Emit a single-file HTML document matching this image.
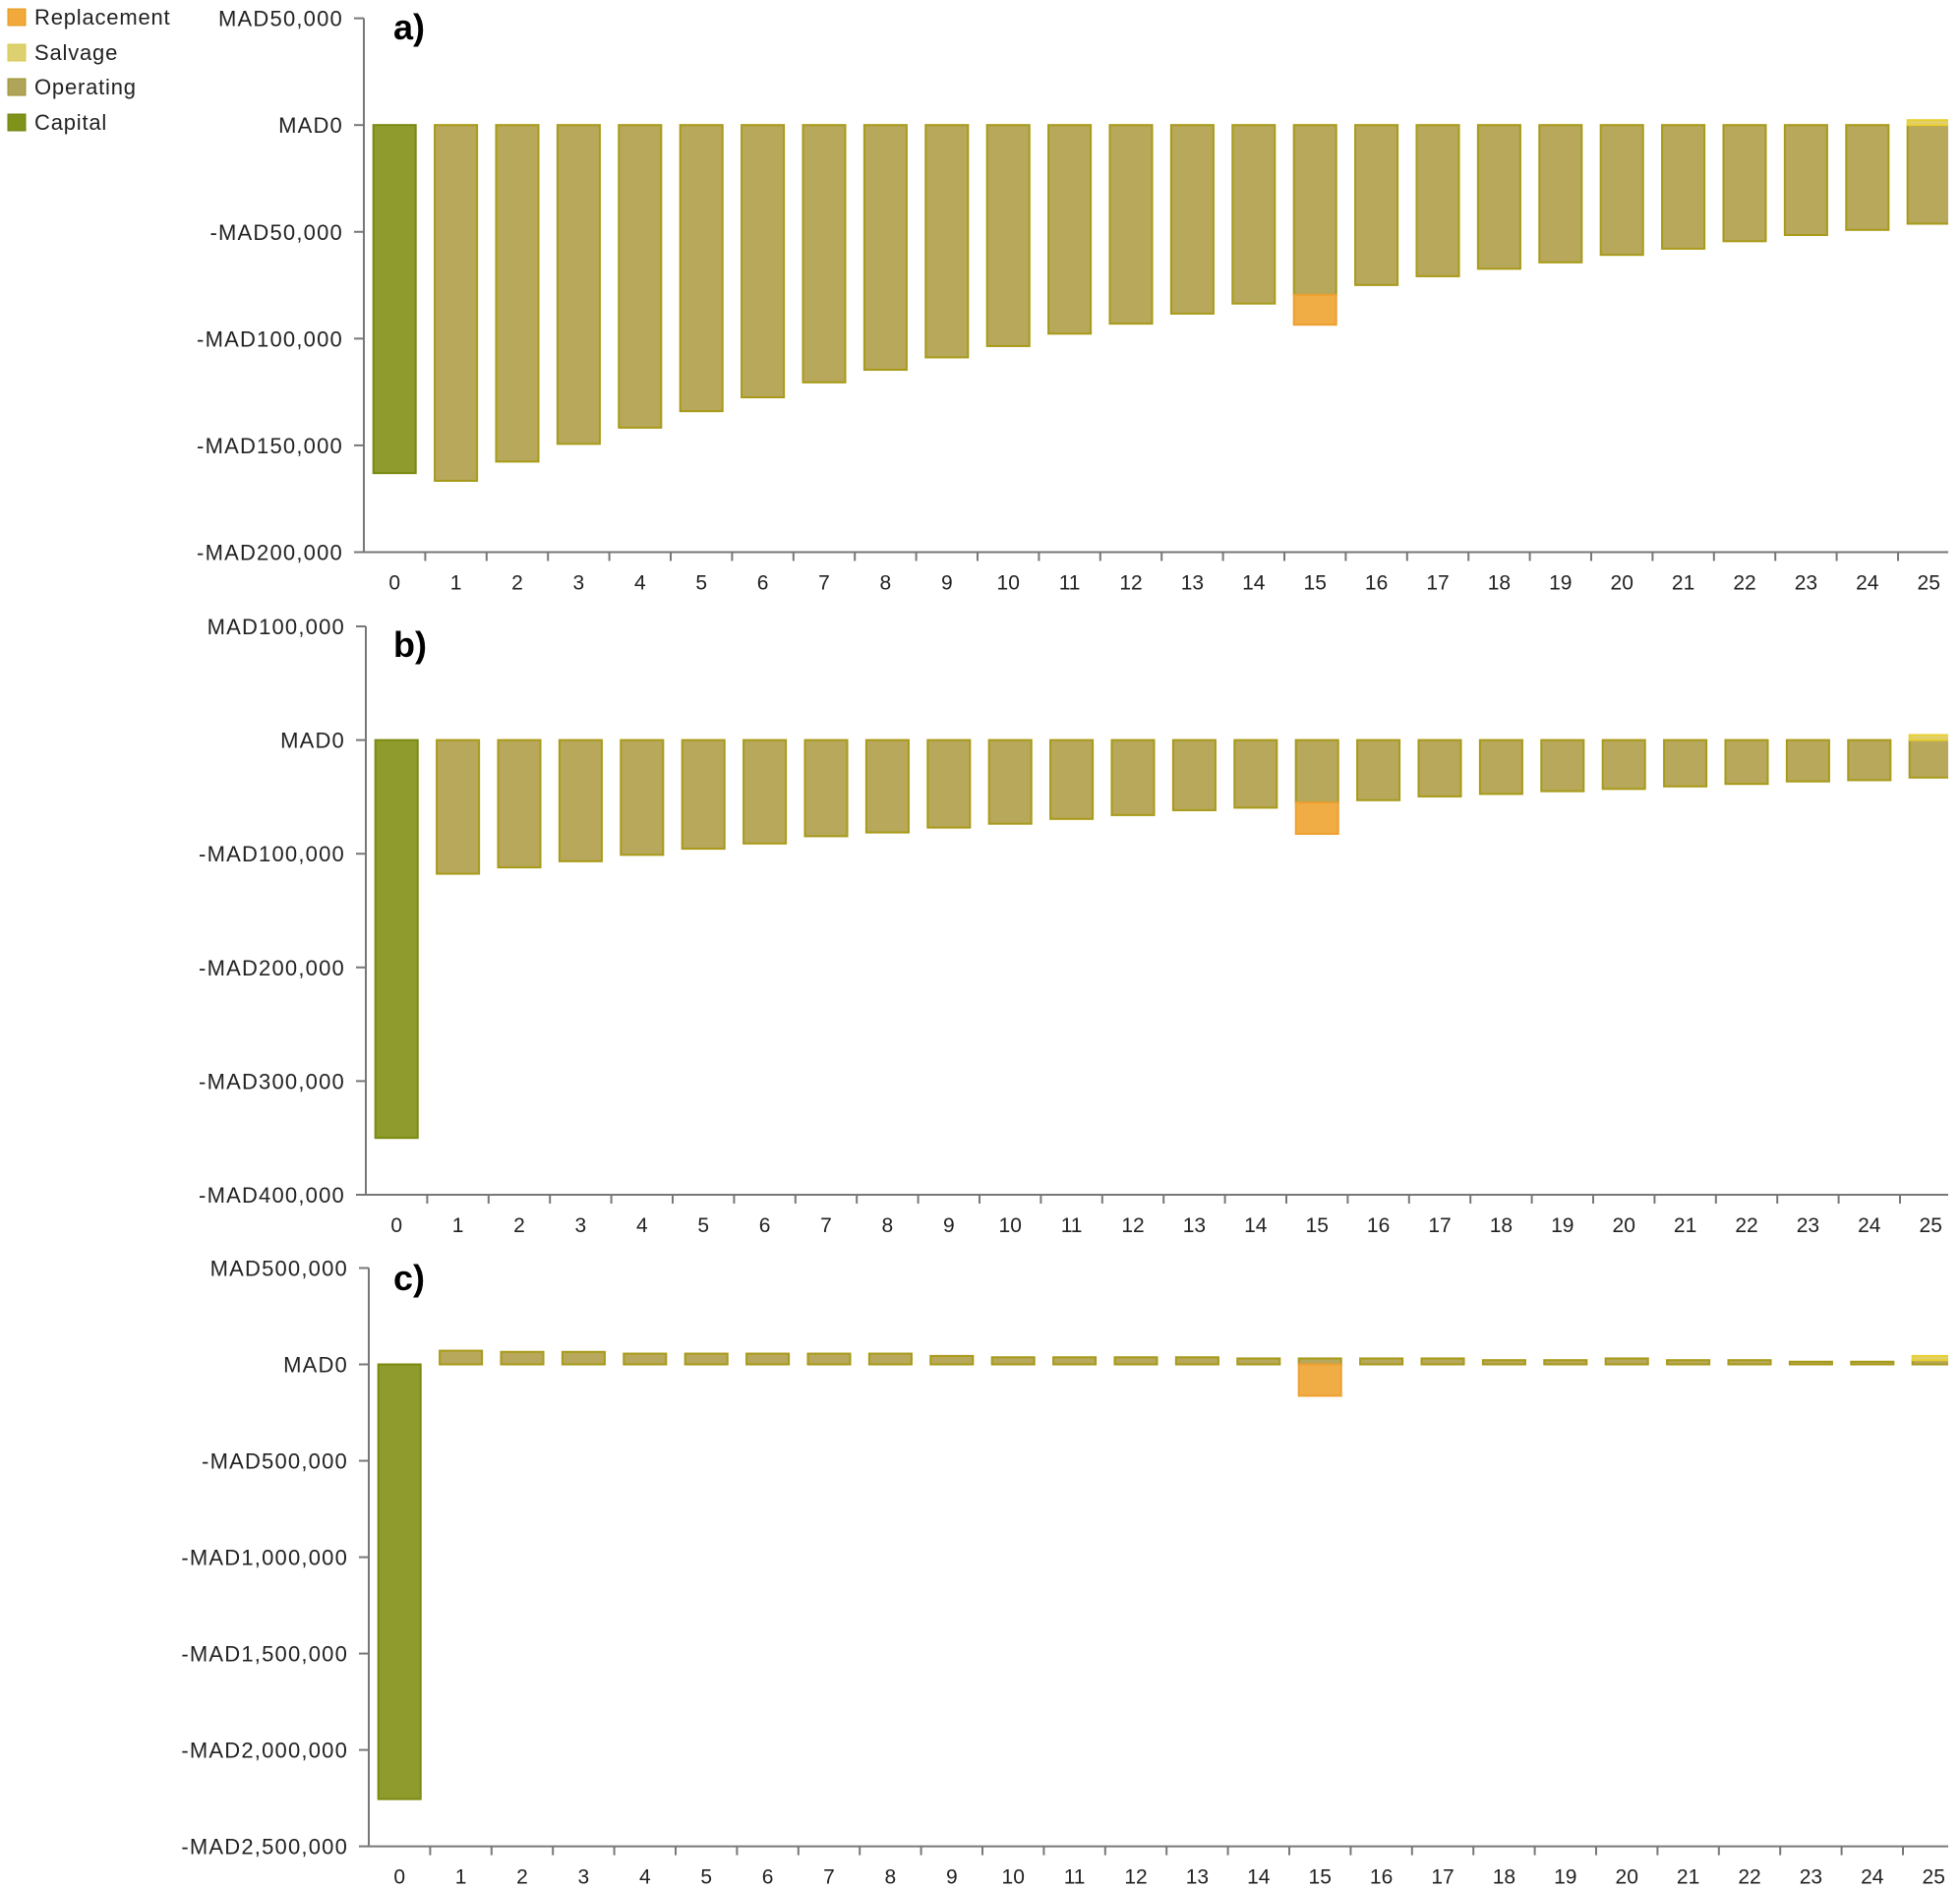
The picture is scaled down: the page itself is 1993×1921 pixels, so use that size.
<!DOCTYPE html>
<html><head><meta charset="utf-8"><style>
html,body{margin:0;padding:0;background:#fff}
svg{display:block}
text{font-family:"Liberation Sans",sans-serif}
</style></head><body>
<svg id="chart" width="1993" height="1921" viewBox="0 0 1993 1921" xmlns="http://www.w3.org/2000/svg">
<g>
<g><rect x="8" y="9" width="18" height="17" fill="#f2a93b" stroke="#e09a20"/><text x="35" y="25" font-size="22" letter-spacing="0.8" fill="#222">Replacement</text></g>
<g><rect x="8" y="45" width="18" height="17" fill="#ddd070" stroke="#d8c850"/><text x="35" y="61" font-size="22" letter-spacing="0.8" fill="#222">Salvage</text></g>
<g><rect x="8" y="80" width="18" height="17" fill="#b0a35a" stroke="#9a9030"/><text x="35" y="96" font-size="22" letter-spacing="0.8" fill="#222">Operating</text></g>
<g><rect x="8" y="116" width="18" height="17" fill="#7f921a" stroke="#6f8010"/><text x="35" y="132" font-size="22" letter-spacing="0.8" fill="#222">Capital</text></g>
</g>
</svg>
<script>
const years = [0,1,2,3,4,5,6,7,8,9,10,11,12,13,14,15,16,17,18,19,20,21,22,23,24,25];
// panel a (MAD)
const capitalA = [-163000,0,0,0,0,0,0,0,0,0,0,0,0,0,0,0,0,0,0,0,0,0,0,0,0,0];
const operatingA = [0,-166600,-157600,-149300,-141700,-134000,-127500,-120500,-114600,-108800,-103500,-97700,-93000,-88300,-83600,-79500,-74900,-70800,-67300,-64300,-60800,-57900,-54400,-51500,-49100,-46200];
const replacementA = [0,0,0,0,0,0,0,0,0,0,0,0,0,0,0,-14000,0,0,0,0,0,0,0,0,0,0];
const salvageA = [0,0,0,0,0,0,0,0,0,0,0,0,0,0,0,0,0,0,0,0,0,0,0,0,0,2300];
const ticksA = [50000,0,-50000,-100000,-150000,-200000];
// panel b
const capitalB = [-350000,0,0,0,0,0,0,0,0,0,0,0,0,0,0,0,0,0,0,0,0,0,0,0,0,0];
const operatingB = [0,-117600,-112000,-106600,-101000,-95600,-91000,-84600,-81300,-77000,-73600,-69400,-66000,-61700,-59500,-55000,-52900,-49600,-47400,-45000,-43000,-40800,-38600,-36400,-35300,-33000];
const replacementB = [0,0,0,0,0,0,0,0,0,0,0,0,0,0,0,-27500,0,0,0,0,0,0,0,0,0,0];
const salvageB = [0,0,0,0,0,0,0,0,0,0,0,0,0,0,0,0,0,0,0,0,0,0,0,0,0,4400];
const ticksB = [100000,0,-100000,-200000,-300000,-400000];
// panel c
const capitalC = [-2255000,0,0,0,0,0,0,0,0,0,0,0,0,0,0,0,0,0,0,0,0,0,0,0,0,0];
const operatingC = [0,71000,65000,65000,56000,56000,56000,56000,56000,44000,37000,37000,37000,37000,31000,31000,31000,31000,22000,22000,31000,22000,22000,14000,14000,22000];
const replacementC = [0,0,0,0,0,0,0,0,0,0,0,0,0,0,0,-163000,0,0,0,0,0,0,0,0,0,0];
const salvageC = [0,0,0,0,0,0,0,0,0,0,0,0,0,0,0,0,0,0,0,0,0,0,0,0,0,22000];
const ticksC = [500000,0,-500000,-1000000,-1500000,-2000000,-2500000];

const NS = "http://www.w3.org/2000/svg";
const svg = document.getElementById('chart');
function mk(tag, attrs, parent){const e=document.createElementNS(NS,tag);for(const k in attrs)e.setAttribute(k,attrs[k]);parent.appendChild(e);return e;}
function fmt(v){const s=Math.abs(v).toLocaleString('en-US');return (v<0?'-':'')+'MAD'+s;}
const COLORS={capital:['#8f9b2c','#7a8a10'],operating:['#b7a85c','#a89a18'],replacement:['#f0ac45','#eea030'],salvage:['#e2d070','#e8d030']};

function panel(cfg){
  const g=mk('g',{},svg);
  
  
  const vmax=cfg.ticks[0], vmin=cfg.ticks[cfg.ticks.length-1];
  const y=v=>cfg.yTop+(vmax-v)/(vmax-vmin)*(cfg.yBot-cfg.yTop);
  const band=62.4;
  const x=i=>cfg.x0+band*i;
  const cp=mk('clipPath',{id:'clip'+cfg.id},g);
  mk('rect',{x:cfg.x0,y:0,width:cfg.xEnd-cfg.x0,height:1921},cp);
  const bars=mk('g',{'clip-path':'url(#clip'+cfg.id+')'},g);
  
  
  const bw=band*0.69;
  years.forEach((yr,i)=>{
    let neg=0,pos=0;
    const series=[['capital',cfg.capital[i]],['operating',cfg.operating[i]],['replacement',cfg.replacement[i]],['salvage',cfg.salvage[i]]];
    series.forEach(([name,v])=>{
      if(!v)return;
      let a,b;
      if(v<0){a=neg;b=neg+v;neg=b;}else{a=pos;b=pos+v;pos=b;}
      const y1=y(Math.max(a,b)), y2=y(Math.min(a,b));
      const r=mk('rect',{x:x(i)+(band-bw)/2,y:y1,width:bw,height:Math.max(1,y2-y1),fill:COLORS[name][0],stroke:COLORS[name][1],'stroke-width':2},bars);
      
      
    });
  });
  const ax=mk('g',{},g);
  
  
  mk('line',{x1:cfg.x0,y1:cfg.yTop,x2:cfg.x0,y2:cfg.yBot,stroke:'#777','stroke-width':2},ax);
  mk('line',{x1:cfg.x0,y1:cfg.yBot,x2:cfg.xEnd,y2:cfg.yBot,stroke:'#777','stroke-width':2},ax);
  cfg.ticks.forEach(t=>{
    mk('line',{x1:cfg.x0-10,y1:y(t),x2:cfg.x0,y2:y(t),stroke:'#777','stroke-width':2},ax);
    const tx=mk('text',{x:cfg.x0-21,y:y(t)+8,'font-size':22,'letter-spacing':1.2,'text-anchor':'end',fill:'#222'},ax);
    tx.textContent=fmt(t);
    
    
  });
  years.forEach((yr,i)=>{
    if(i>0) mk('line',{x1:x(i),y1:cfg.yBot,x2:x(i),y2:cfg.yBot+9,stroke:'#777','stroke-width':2},ax);
    const tx=mk('text',{x:x(i)+band/2,y:cfg.yBot+38,'font-size':21,'text-anchor':'middle',fill:'#222'},ax);
    tx.textContent=yr;
    
    
  });
  const lb=mk('text',{x:400,y:cfg.labelY,'font-size':36,'font-weight':'bold',fill:'#000'},g);
  lb.textContent=cfg.id+')';
  
  
}
panel({id:'a',x0:370,xEnd:1981,yTop:18.6,yBot:561.5,ticks:ticksA,capital:capitalA,operating:operatingA,replacement:replacementA,salvage:salvageA,labelY:40});
panel({id:'b',x0:372,xEnd:1981,yTop:637,yBot:1215,ticks:ticksB,capital:capitalB,operating:operatingB,replacement:replacementB,salvage:salvageB,labelY:668});
panel({id:'c',x0:375,xEnd:1981,yTop:1289.5,yBot:1877.6,ticks:ticksC,capital:capitalC,operating:operatingC,replacement:replacementC,salvage:salvageC,labelY:1312});
</script>
</body></html>
